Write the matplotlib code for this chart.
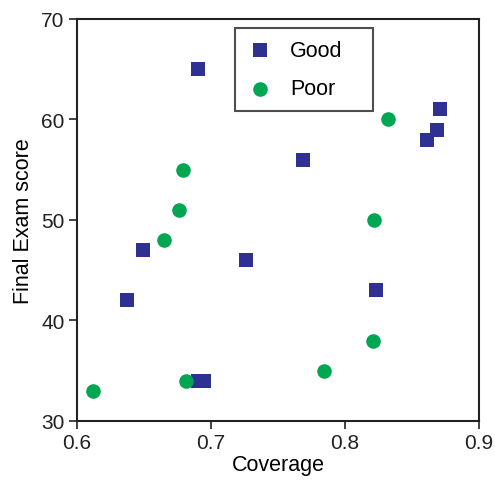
import matplotlib
matplotlib.use("Agg")
import matplotlib.pyplot as plt

plt.rcParams['font.family'] = ['Liberation Sans', 'DejaVu Sans']

good_x = [0.690, 0.871, 0.869, 0.861, 0.769, 0.649, 0.726, 0.823, 0.637, 0.690, 0.695]
good_y = [65, 61, 59, 58, 56, 47, 46, 43, 42, 34, 34]
poor_x = [0.832, 0.679, 0.676, 0.665, 0.822, 0.821, 0.784, 0.681, 0.612]
poor_y = [60, 55, 51, 48, 50, 38, 35, 34, 33]

fig = plt.figure(figsize=(4.95, 4.85), dpi=100)
ax = fig.add_axes([0.1556, 0.13, 0.8121, 0.8288])

ax.scatter(good_x, good_y, marker='s', s=95, color='#2E3192', label='Good', linewidths=0, zorder=3)
ax.scatter(poor_x, poor_y, marker='o', s=110, color='#00A651', label='Poor', linewidths=0, zorder=3)

ax.set_xlim(0.6, 0.9)
ax.set_ylim(30, 70)
ax.set_xticks([0.6, 0.7, 0.8, 0.9])
ax.set_xticklabels(['0.6', '0.7', '0.8', '0.9'])
ax.set_yticks([30, 40, 50, 60, 70])
ax.tick_params(direction='out', length=6, width=1.2, labelsize=15, colors='#222222', pad=3)
for s in ax.spines.values():
    s.set_linewidth(1.5)
    s.set_color('#222222')
ax.set_xlabel('Coverage', fontsize=15.5, labelpad=1)
ax.set_ylabel('Final Exam score', fontsize=15.5, labelpad=5)

leg = ax.legend(loc='upper left', bbox_to_anchor=(0.393, 0.0, 0.343, 0.977), mode='expand',
                fontsize=15.5, frameon=True,
                fancybox=False, edgecolor='#222222', borderpad=0.55, labelspacing=0.8,
                handlelength=1.2, handletextpad=0.8, borderaxespad=0)
leg.get_frame().set_linewidth(1.5)

fig.savefig('out.png', dpi=100)
